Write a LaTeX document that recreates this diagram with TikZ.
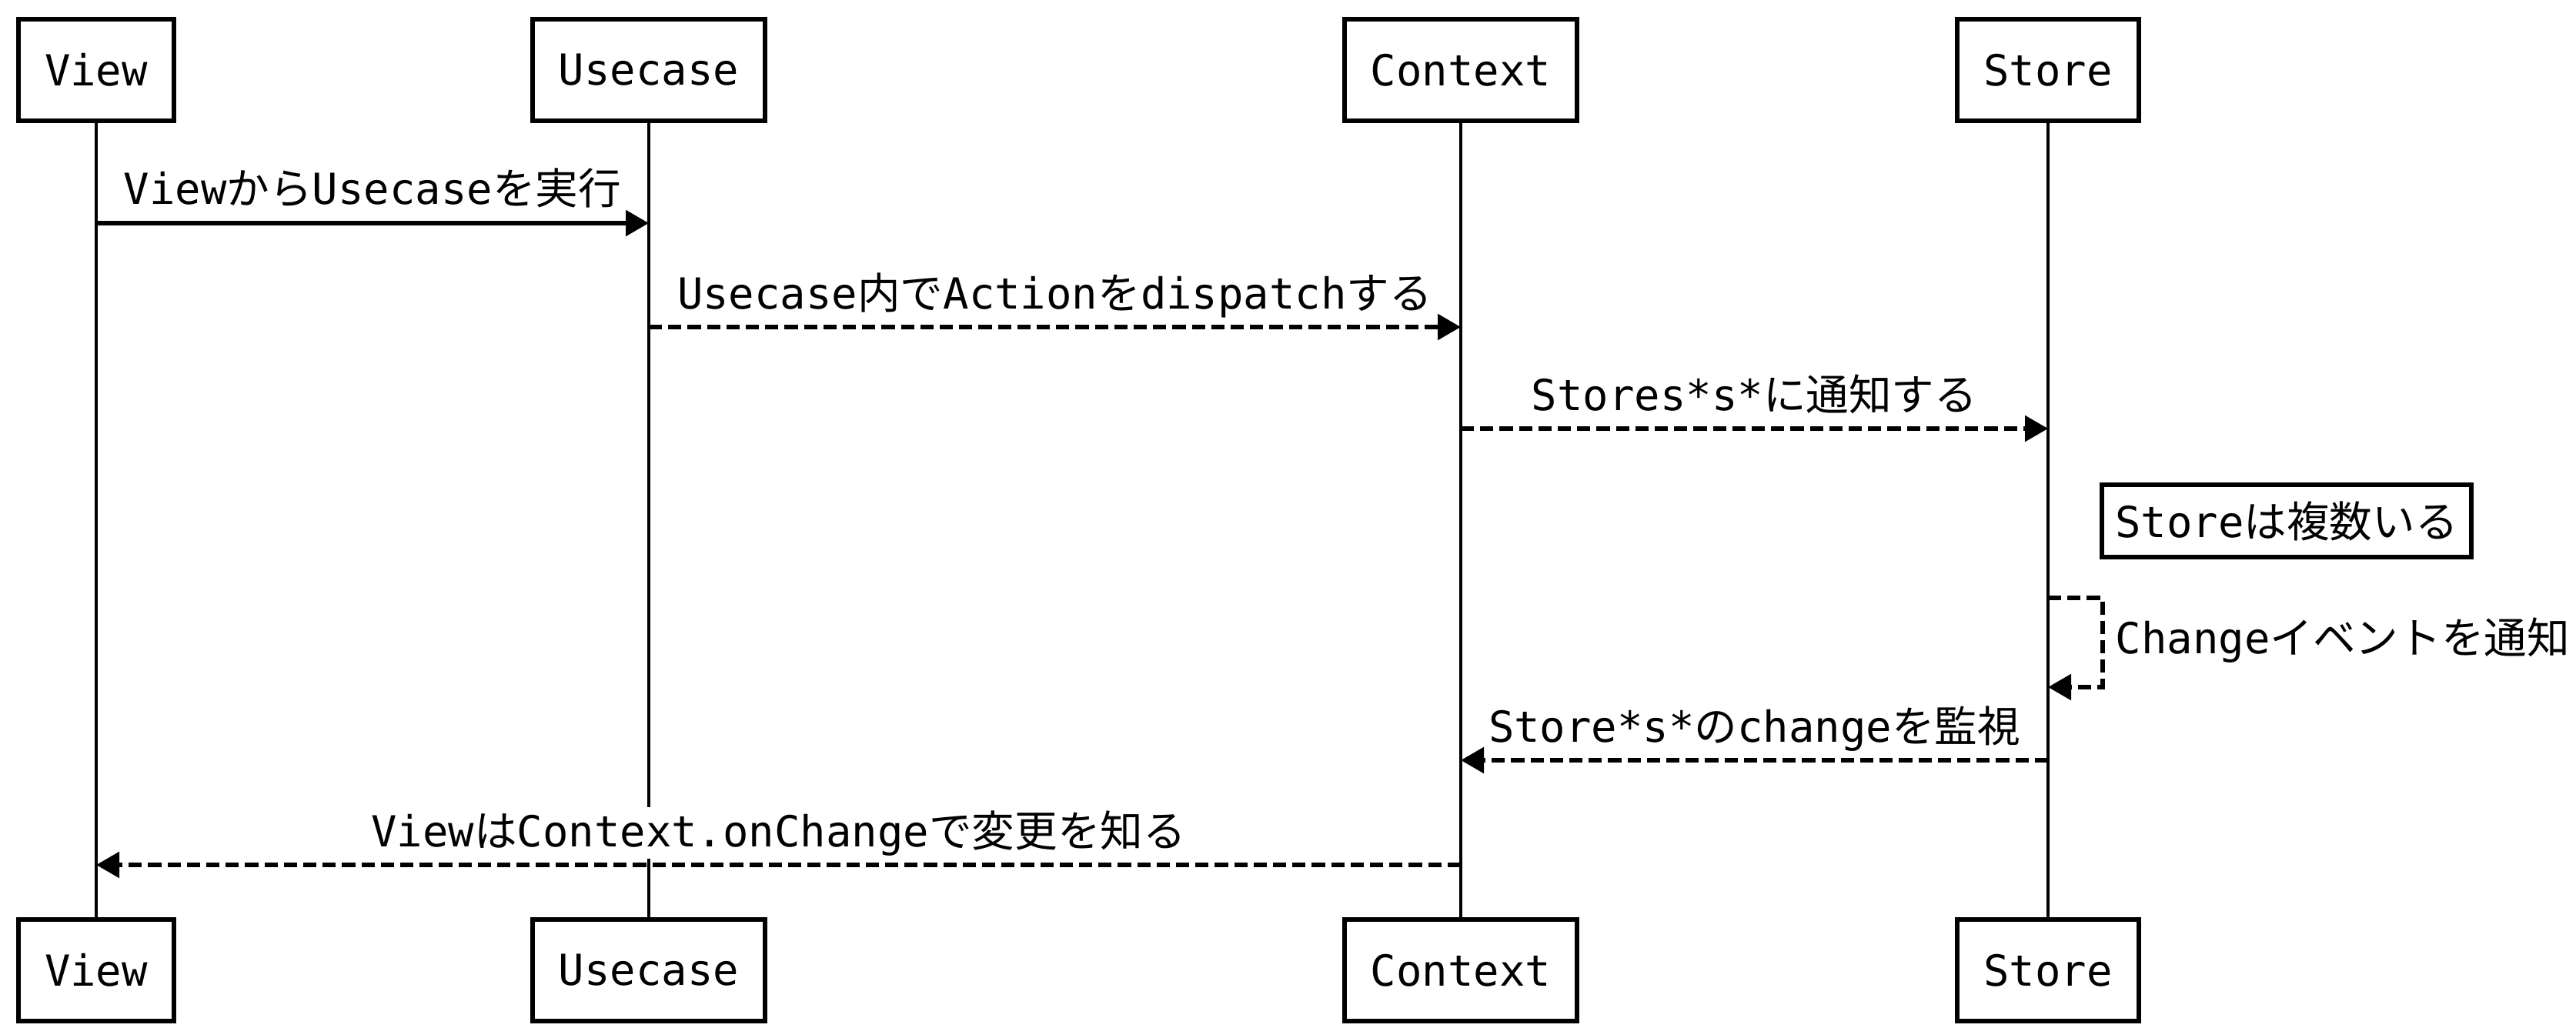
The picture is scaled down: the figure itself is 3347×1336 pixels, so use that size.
\documentclass[tikz,border=0pt]{standalone}
\usepackage{fontspec}
\setmainfont{DejaVu Sans Mono}
\newfontfamily\jpfont{Noto Sans CJK JP}
\newcommand\ja[1]{{\jpfont #1}}
\usetikzlibrary{arrows.meta}
\begin{document}
\begin{tikzpicture}[x=0.25pt,y=-0.25pt,
  font=\fontsize{13.9pt}{16pt}\selectfont,
  actor/.style={draw, line width=1.5pt, inner xsep=8.5pt, inner ysep=0pt,
                minimum height=33pt, fill=white},
  notebox/.style={draw, line width=1.5pt, inner xsep=4.35pt, inner ysep=0pt,
                minimum height=23.3pt, fill=white},
  life/.style={line width=1.2pt},
  msg/.style={line width=1.4pt, -{Triangle[length=7.5pt,width=8.25pt]}},
  ret/.style={msg, dash pattern=on 4.3pt off 2pt},
  lbl/.style={anchor=base, fill=white, inner sep=1pt, yshift=6pt}]
\useasboundingbox (0,0) rectangle (3347,1336);

% participants, top and bottom
\node[actor] (vT) at (125,91) {View};
\node[actor] (uT) at (843,91) {Usecase};
\node[actor] (cT) at (1898,91) {Context};
\node[actor] (sT) at (2661,91) {Store};
\node[actor] (vB) at (125,1261) {View};
\node[actor] (uB) at (843,1261) {Usecase};
\node[actor] (cB) at (1898,1261) {Context};
\node[actor] (sB) at (2661,1261) {Store};

% lifelines
\draw[life] (vT) -- (vB);
\draw[life] (uT) -- (uB);
\draw[life] (cT) -- (cB);
\draw[life] (sT) -- (sB);

% message anchor points on the lifelines
\coordinate (v1) at (125,290);  \coordinate (u1) at (843,290);
\coordinate (u2) at (843,425);  \coordinate (c2) at (1898,425);
\coordinate (c3) at (1898,557); \coordinate (s3) at (2661,557);
\coordinate (s4) at (2661,777); \coordinate (s5) at (2661,893);
\coordinate (s6) at (2661,988); \coordinate (c6) at (1898,988);
\coordinate (c7) at (1898,1124); \coordinate (v7) at (125,1124);

% messages
\draw[msg] (v1) -- node[lbl] {View\ja{から}Usecase\ja{を実行}} (u1);
\draw[ret] (u2) -- node[lbl] {Usecase\ja{内で}Action\ja{を}dispatch\ja{する}} (c2);
\draw[ret] (c3) -- node[lbl] {Stores*s*\ja{に通知する}} (s3);

\node[notebox] (note) at (2971,677) {Store\ja{は複数いる}};

\draw[ret] (s4) -- ++(71,0) |- (s5);
\node[anchor=west, inner sep=0pt] (selfl) at (2748,832) {Change\ja{イベントを通知}};

\draw[ret] (s6) -- node[lbl] {Store*s*\ja{の}change\ja{を監視}} (c6);
\draw[ret] (c7) -- node[lbl] {View\ja{は}Context.onChange\ja{で変更を知る}} (v7);
\end{tikzpicture}
\end{document}
